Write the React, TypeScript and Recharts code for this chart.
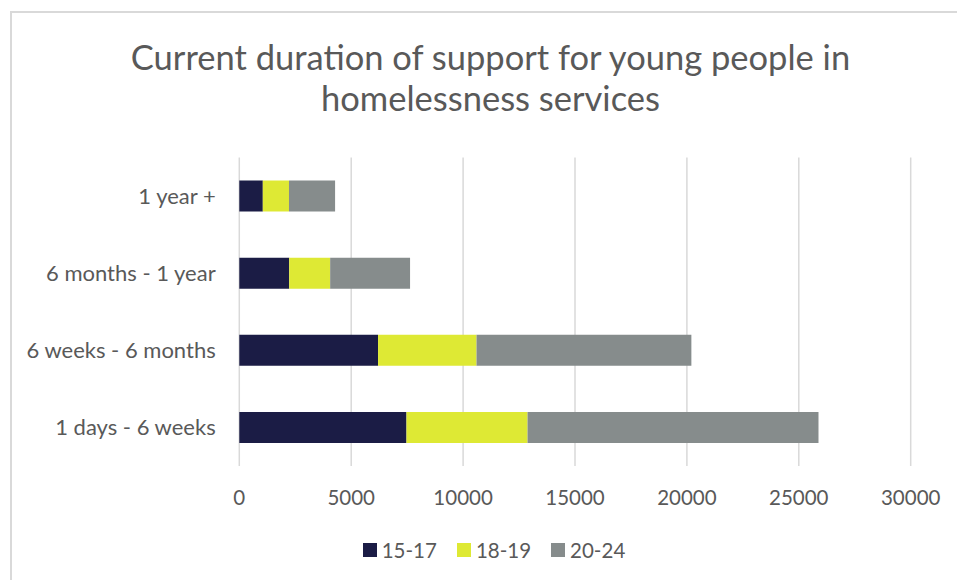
import {
  Bar,
  BarChart,
  CartesianGrid,
  Legend,
  XAxis,
  YAxis,
} from "recharts";

const durations = [
  "1 year +",
  "6 months - 1 year",
  "6 weeks - 6 months",
  "1 days - 6 weeks",
];
const age15to17 = [1050, 2230, 6200, 7470];
const age18to19 = [1170, 1830, 4400, 5410];
const age20to24 = [2060, 3570, 9600, 13000];
const xTicks = [0, 5000, 10000, 15000, 20000, 25000, 30000];

const data = durations.map((name, i) => ({
  name,
  "15-17": age15to17[i],
  "18-19": age18to19[i],
  "20-24": age20to24[i],
}));

const FONT = "Lato, 'Open Sans', sans-serif";
const TEXT = "#595959";

function LegendContent({ payload }: { payload?: any[] }) {
  return (
    <div
      style={{
        display: "flex",
        justifyContent: "center",
        alignItems: "center",
        height: 30,
        fontFamily: FONT,
        fontSize: 20.5,
        color: TEXT,
      }}
    >
      {(payload || []).map((item) => (
        <span
          key={item.value}
          style={{ display: "flex", alignItems: "center", margin: "0 10px" }}
        >
          <span
            style={{
              width: 14,
              height: 14,
              background: item.color,
              marginRight: 5,
              display: "inline-block",
            }}
          />
          {item.value}
        </span>
      ))}
    </div>
  );
}

export default function App() {
  return (
    <div
      style={{
        position: "absolute",
        left: 0,
        top: 0,
        width: 957,
        height: 580,
        overflow: "hidden",
        background: "#fff",
      }}
    >
      <div
        style={{
          position: "absolute",
          left: 10,
          top: 11,
          width: 1100,
          height: 700,
          border: "2px solid #d9d9d9",
        }}
      />
      <div
        style={{
          position: "absolute",
          left: 0,
          top: 36,
          width: 981,
          textAlign: "center",
          fontFamily: FONT,
          fontSize: 34.5,
          lineHeight: "41px",
          color: TEXT,
        }}
      >
        Current duration of support for young people in
        <br />
        homelessness services
      </div>
      <div style={{ position: "absolute", left: 0, top: 0 }}>
        <BarChart
          width={957}
          height={580}
          data={data}
          layout="vertical"
          margin={{ top: 157.5, right: 46.3, left: 0, bottom: 44 }}
        >
          <CartesianGrid horizontal={false} stroke="#d9d9d9" strokeWidth={1.5} />
          <XAxis
            type="number"
            domain={[0, 30000]}
            ticks={xTicks}
            interval={0}
            height={40}
            axisLine={false}
            tickLine={false}
            tickSize={0}
            tickMargin={24}
            tick={{ fill: TEXT, fontFamily: FONT, fontSize: 20.5 }}
          />
          <YAxis
            type="category"
            dataKey="name"
            width={239.3}
            axisLine={false}
            tickLine={false}
            tickSize={0}
            tickMargin={23.6}
            tick={{ fill: TEXT, fontFamily: FONT, fontSize: 22 }}
          />
          <Legend
            verticalAlign="bottom"
            height={30}
            content={<LegendContent />}
            wrapperStyle={{ left: 0, width: 988, bottom: 15, height: 30 }}
          />
          <Bar dataKey="15-17" stackId="a" fill="#1b1c45" barSize={31} isAnimationActive={false} />
          <Bar dataKey="18-19" stackId="a" fill="#dee934" barSize={31} isAnimationActive={false} />
          <Bar dataKey="20-24" stackId="a" fill="#868c8c" barSize={31} isAnimationActive={false} />
        </BarChart>
      </div>
    </div>
  );
}
